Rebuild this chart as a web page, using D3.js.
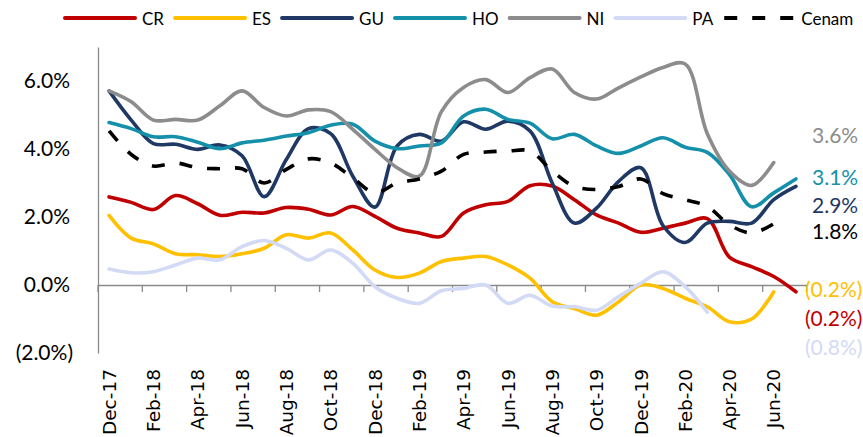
<!DOCTYPE html>
<html>
<head>
<meta charset="utf-8">
<script src="https://cdn.jsdelivr.net/npm/d3@7"></script>
<style>
  body { margin: 0; background: #fff; }
  svg { display: block; }
</style>
</head>
<body>
<div id="chart"></div>
<script>
// months on the category axis
var months = ["Dec-17","Jan-18","Feb-18","Mar-18","Apr-18","May-18","Jun-18","Jul-18","Aug-18","Sep-18","Oct-18","Nov-18",
  "Dec-18","Jan-19","Feb-19","Mar-19","Apr-19","May-19","Jun-19","Jul-19","Aug-19","Sep-19","Oct-19","Nov-19",
  "Dec-19","Jan-20","Feb-20","Mar-20","Apr-20","May-20","Jun-20","Jul-20"];

// series values, in percent
var CR = [2.59, 2.43, 2.22, 2.63, 2.39, 2.05, 2.14, 2.12, 2.28, 2.23, 2.06, 2.31, 2.02, 1.67, 1.53, 1.43,
  2.12, 2.36, 2.46, 2.92, 2.91, 2.51, 2.06, 1.82, 1.55, 1.67, 1.82, 1.95, 0.82, 0.54, 0.25, -0.2];
var ES = [2.05, 1.38, 1.21, 0.92, 0.89, 0.84, 0.92, 1.08, 1.48, 1.38, 1.53, 1.03, 0.44, 0.22, 0.35, 0.69,
  0.79, 0.84, 0.59, 0.2, -0.49, -0.69, -0.89, -0.49, 0.0, -0.1, -0.39, -0.64, -1.08, -1.0, -0.2, null];
var GU = [5.71, 4.85, 4.16, 4.14, 3.99, 4.12, 3.8, 2.6, 3.69, 4.6, 4.45, 3.2, 2.29, 4.09, 4.43, 4.23,
  4.8, 4.58, 4.82, 4.53, 3.0, 1.82, 2.26, 3.05, 3.45, 1.75, 1.25, 1.82, 1.87, 1.82, 2.51, 2.9];
var HO = [4.78, 4.6, 4.36, 4.36, 4.2, 4.01, 4.18, 4.26, 4.38, 4.48, 4.7, 4.73, 4.23, 4.01, 4.09, 4.18,
  4.97, 5.17, 4.87, 4.76, 4.3, 4.43, 4.09, 3.87, 4.09, 4.33, 4.05, 3.9, 3.25, 2.3, 2.71, 3.12];
var NI = [5.71, 5.39, 4.85, 4.87, 4.85, 5.27, 5.71, 5.22, 4.97, 5.15, 5.1, 4.58, 3.99, 3.45, 3.2, 5.1,
  5.81, 6.04, 5.66, 6.1, 6.35, 5.66, 5.47, 5.8, 6.12, 6.4, 6.5, 4.45, 3.35, 2.93, 3.6, null];
var PA = [0.47, 0.36, 0.39, 0.59, 0.79, 0.74, 1.13, 1.31, 1.08, 0.74, 1.03, 0.64, -0.05, -0.39, -0.54, -0.17,
  -0.1, 0.0, -0.54, -0.3, -0.62, -0.64, -0.74, -0.34, 0.05, 0.39, -0.05, -0.8, null, null, null, null];
var Cenam = [4.53, 3.84, 3.5, 3.59, 3.45, 3.42, 3.42, 3.0, 3.4, 3.71, 3.59, 3.15, 2.71, 3.0, 3.12, 3.35,
  3.84, 3.91, 3.94, 3.94, 3.35, 2.9, 2.81, 2.9, 3.12, 2.69, 2.51, 2.31, 1.77, 1.53, 1.8, null];

var seriesNames = ["CR", "ES", "GU", "HO", "NI", "PA", "Cenam"];
var seriesValues = [CR, ES, GU, HO, NI, PA, Cenam];
var seriesColors = ["#C00000", "#FFC000", "#1F3864", "#1490AB", "#8C8C8C", "#D3DAF5", "#000000"];
var yTicks = [-2, 0, 2, 4, 6];

var width = 863, height = 437;

var svg = d3.select("#chart")
  .append("svg")
    .attr("width", width)
    .attr("height", height);

var x = d3.scaleBand().domain(months).range([98, 807]);
var y = d3.scaleLinear().domain([-2, 7]).range([353, 47]);
var bw = x.bandwidth();

function pct(v) {
  return v < 0 ? "(" + Math.abs(v).toFixed(1) + "%)" : v.toFixed(1) + "%";
}

// y axis
var yAxis = svg.append("g")
  .attr("transform", "translate(98,0)")
  .call(d3.axisLeft(y).tickValues(yTicks).tickSize(0).tickSizeOuter(0).tickFormat(pct));
yAxis.select(".domain").attr("stroke", "#8a8a8a").attr("stroke-width", 1.3);
yAxis.selectAll("text")
  .attr("x", function(d) { return d < 0 ? -25 : -28; })
  .style("font-family", "Lato, 'Open Sans', sans-serif")
  .style("font-size", "21px")
  .attr("fill", "#000");

// x axis at zero
var xAxis = svg.append("g")
  .attr("transform", "translate(0," + y(0) + ")")
  .call(d3.axisBottom(x)
    .tickValues(months.filter(function(d, i) { return i % 2 === 0; }))
    .tickSize(7).tickSizeOuter(0));
xAxis.select(".domain").attr("stroke", "#8a8a8a").attr("stroke-width", 1.3);
xAxis.selectAll(".tick line")
  .attr("x1", -bw / 2).attr("x2", -bw / 2)
  .attr("stroke", "#8a8a8a").attr("stroke-width", 1.3);
xAxis.append("line")
  .attr("x1", x.range()[1]).attr("x2", x.range()[1])
  .attr("y1", 0).attr("y2", 7)
  .attr("stroke", "#8a8a8a").attr("stroke-width", 1.3);
xAxis.selectAll(".tick text")
  .attr("transform", "rotate(-90)")
  .attr("text-anchor", "end")
  .attr("x", -(369 - y(0)))
  .attr("y", 0)
  .attr("dy", "0.36em")
  .style("font-family", "'DejaVu Sans', Verdana, sans-serif")
  .style("font-size", "18.5px")
  .attr("fill", "#000");

// lines
var line = d3.line()
  .defined(function(d) { return d != null; })
  .x(function(d, i) { return x(months[i]) + bw / 2; })
  .y(function(d) { return y(d); })
  .curve(d3.curveCatmullRom.alpha(0.5));

svg.selectAll("path.series")
  .data(seriesValues)
  .enter()
  .append("path")
    .attr("class", "series")
    .attr("fill", "none")
    .attr("stroke", function(d, i) { return seriesColors[i]; })
    .attr("stroke-width", 3.6)
    .attr("stroke-linecap", function(d, i) { return seriesNames[i] === "Cenam" ? "butt" : "round"; })
    .attr("stroke-linejoin", "round")
    .attr("stroke-dasharray", function(d, i) { return seriesNames[i] === "Cenam" ? "13,15" : null; })
    .attr("d", line);

// end labels (moved by hand in the original, so their heights are set apart)
var endOrder = ["NI", "HO", "GU", "Cenam", "ES", "CR", "PA"];
var endLabelAt = [4.43, 3.2, 2.37, 1.6, -0.11, -0.97, -1.82];
endOrder.forEach(function(name, k) {
  var i = seriesNames.indexOf(name);
  var vals = seriesValues[i].filter(function(v) { return v != null; });
  var last = vals[vals.length - 1];
  svg.append("text")
    .attr("x", last < 0 ? 805 : 812)
    .attr("y", y(endLabelAt[k]))
    .attr("dominant-baseline", "central")
    .style("font-family", "Lato, 'Open Sans', sans-serif")
    .style("font-size", "21px")
    .attr("fill", seriesColors[i])
    .text(pct(Math.round(last * 10) / 10));
});

// legend
var legend = svg.append("g").attr("transform", "translate(0,18)");
var lx = 65;
seriesNames.forEach(function(name, i) {
  legend.append("line")
    .attr("x1", lx).attr("x2", lx + 70)
    .attr("y1", 0).attr("y2", 0)
    .attr("stroke", seriesColors[i])
    .attr("stroke-width", 4)
    .attr("stroke-linecap", name === "Cenam" ? "butt" : "round")
    .attr("stroke-dasharray", name === "Cenam" ? "13,15" : null);
  var t = legend.append("text")
    .attr("x", lx + 77)
    .attr("y", 0)
    .attr("dominant-baseline", "central")
    .style("font-family", "Lato, 'Open Sans', sans-serif")
    .style("font-size", "17px")
    .attr("fill", "#000")
    .text(name);
  lx = lx + 77 + t.node().getComputedTextLength() + 11;
});
</script>
</body>
</html>
